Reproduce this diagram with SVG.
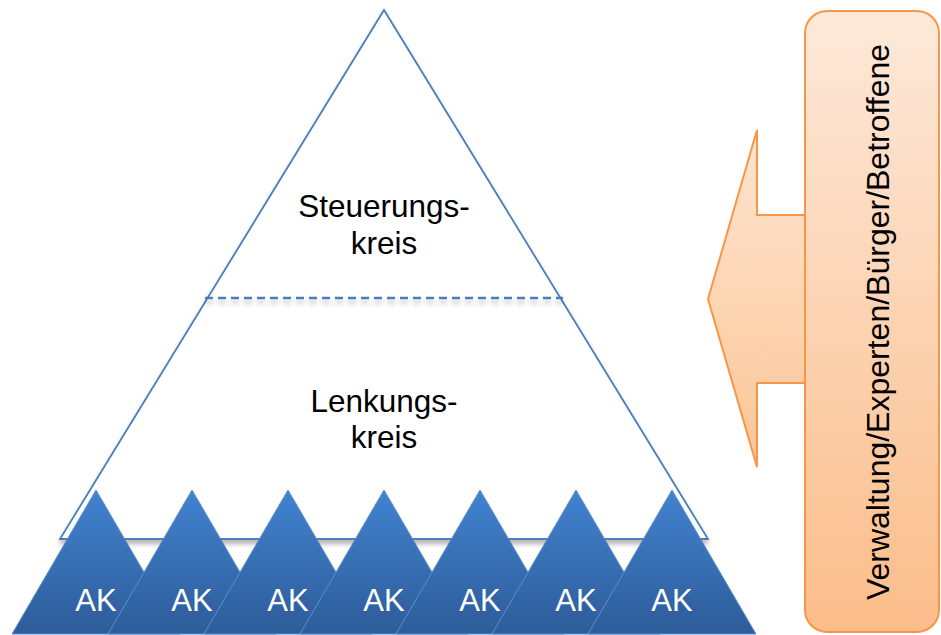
<svg xmlns="http://www.w3.org/2000/svg" width="941" height="635" viewBox="0 0 941 635">
<defs>
  <linearGradient id="akGrad" x1="0" y1="0" x2="0" y2="1">
    <stop offset="0" stop-color="#4282d0"/>
    <stop offset="1" stop-color="#2d5c99"/>
  </linearGradient>
  <linearGradient id="orGrad" x1="0" y1="0" x2="0" y2="1">
    <stop offset="0" stop-color="#fde9da"/>
    <stop offset="1" stop-color="#fbbd8a"/>
  </linearGradient>
  <linearGradient id="arGrad" gradientUnits="userSpaceOnUse" x1="0" y1="130" x2="0" y2="467">
    <stop offset="0" stop-color="#fde4cf"/>
    <stop offset="1" stop-color="#fcc698"/>
  </linearGradient>
  <filter id="shadow" filterUnits="userSpaceOnUse" x="0" y="0" width="941" height="635">
    <feGaussianBlur in="SourceAlpha" stdDeviation="2.5"/>
    <feOffset dx="0" dy="4" result="b"/>
    <feComponentTransfer><feFuncA type="linear" slope="0.3"/></feComponentTransfer>
    <feMerge><feMergeNode/><feMergeNode in="SourceGraphic"/></feMerge>
  </filter>
</defs>
<style>
  .lbl { font-family: "Liberation Sans", Arial, sans-serif; font-size: 31.5px; fill: #000; text-anchor: middle; }
  .vlbl { font-family: "Liberation Sans", Arial, sans-serif; font-size: 32px; fill: #000; text-anchor: middle; }
  .ak { font-family: "Liberation Sans", Arial, sans-serif; font-size: 31px; fill: #fff; text-anchor: middle; }
  .akTri { fill: url(#akGrad); stroke: #5a8ed0; stroke-width: 1; }
  .blueLine { stroke: #4a7ebb; fill: none; }
  .orange { stroke: #f79646; stroke-width: 2; }
</style>

<g id="pyramid" filter="url(#shadow)">
  <polygon points="384,10 708,539 60,539" fill="#fff" stroke="#4a7ebb" stroke-width="1.8"/>
</g>
<g id="divider" filter="url(#shadow)">
  <line x1="205" y1="298" x2="563" y2="298" class="blueLine" stroke-width="2.5" stroke-dasharray="8,5"/>
</g>
<g id="steuerungskreis">
  <text class="lbl" x="384" y="217">Steuerungs-</text>
  <text class="lbl" x="384" y="254">kreis</text>
</g>
<g id="lenkungskreis">
  <text class="lbl" x="384" y="412">Lenkungs-</text>
  <text class="lbl" x="384" y="448">kreis</text>
</g>

<g id="ak1"><polygon class="akTri" points="96,490 180,634 12,634"/><text class="ak" x="96" y="611">AK</text></g>
<g id="ak2"><polygon class="akTri" points="192,490 276,634 108,634"/><text class="ak" x="192" y="611">AK</text></g>
<g id="ak3"><polygon class="akTri" points="288,490 372,634 204,634"/><text class="ak" x="288" y="611">AK</text></g>
<g id="ak4"><polygon class="akTri" points="384,490 468,634 300,634"/><text class="ak" x="384" y="611">AK</text></g>
<g id="ak5"><polygon class="akTri" points="480,490 564,634 396,634"/><text class="ak" x="480" y="611">AK</text></g>
<g id="ak6"><polygon class="akTri" points="576,490 660,634 492,634"/><text class="ak" x="576" y="611">AK</text></g>
<g id="ak7"><polygon class="akTri" points="672,490 756,634 588,634"/><text class="ak" x="672" y="611">AK</text></g>

<g id="arrow">
  <path d="M757,130 L757,215 L806,215 L806,383 L757,383 L757,467 L708,299 Z" fill="url(#arGrad)" class="orange" stroke-linejoin="miter"/>
</g>
<g id="stakeholders">
  <rect x="805" y="11" width="134" height="621" rx="22" ry="22" fill="url(#orGrad)" class="orange"/>
  <text class="vlbl" transform="translate(889,322) rotate(-90)" x="0" y="0">Verwaltung/Experten/Bürger/Betroffene</text>
</g>
</svg>
